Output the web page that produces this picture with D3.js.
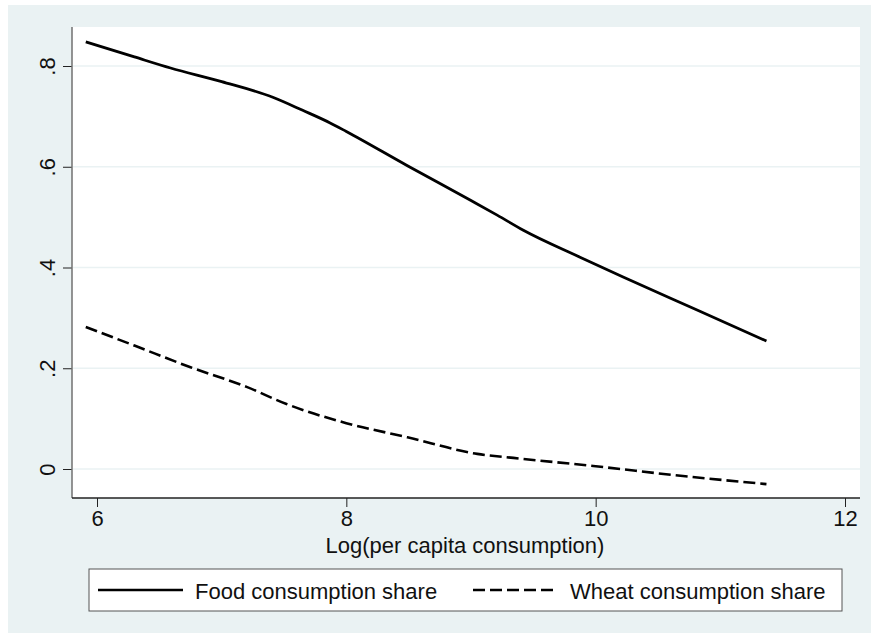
<!DOCTYPE html>
<html>
<head>
<meta charset="utf-8">
<script src="https://cdn.jsdelivr.net/npm/d3@7"></script>
<style>
  body { margin: 0; background: #fff; }
  svg { display: block; font-family: "Liberation Sans", Arial, sans-serif; }
</style>
</head>
<body>
<div id="chart"></div>
<script>
// Data (x = log per capita consumption, y = share)
const foodX = [5.91, 6.3, 6.59, 7.0, 7.41, 7.65, 7.87, 8.0, 8.49, 9.0, 9.21, 9.42, 9.87, 10.22, 10.8, 11.37];
const foodY = [0.848, 0.818, 0.796, 0.769, 0.738, 0.712, 0.687, 0.670, 0.602, 0.533, 0.504, 0.474, 0.421, 0.381, 0.317, 0.254];

const wheatX = [5.91, 6.3, 6.75, 7.2, 7.52, 8.0, 8.49, 9.05, 9.34, 9.98, 10.7, 11.37];
const wheatY = [0.282, 0.245, 0.202, 0.163, 0.129, 0.091, 0.063, 0.030, 0.022, 0.006, -0.014, -0.030];

const xTicks = [6, 8, 10, 12];
const yTicks = [0, 0.2, 0.4, 0.6, 0.8];
const yTickLabels = ["0", ".2", ".4", ".6", ".8"];

const seriesNames = ["Food consumption share", "Wheat consumption share"];
const xTitle = "Log(per capita consumption)";

const W = 871, H = 637;
const bg = "#eaf2f3";

const svg = d3.select('#chart').append('svg')
    .attr('width', W)
    .attr('height', H);

// outer graph region
svg.append('rect')
    .attr('x', 8).attr('y', 5)
    .attr('width', W - 8).attr('height', 628)
    .attr('fill', bg);

// plot region
const plot = { left: 72, right: 860, top: 27, bottom: 498 };
svg.append('rect')
    .attr('x', plot.left).attr('y', plot.top)
    .attr('width', plot.right - plot.left).attr('height', plot.bottom - plot.top)
    .attr('fill', '#fff');

const x = d3.scaleLinear().domain([6, 12]).range([97, 845]);
const y = d3.scaleLinear().domain([0, 0.8]).range([469, 66]);

// horizontal grid
svg.append('g')
    .selectAll('line')
    .data(yTicks)
    .enter()
    .append('line')
    .attr('x1', plot.left + 1).attr('x2', plot.right)
    .attr('y1', d => y(d)).attr('y2', d => y(d))
    .attr('stroke', bg)
    .attr('stroke-width', 1.5);

// y axis
const yAxis = svg.append('g')
    .attr('transform', `translate(${plot.left},0)`)
    .call(d3.axisLeft(y).tickValues(yTicks).tickSize(9).tickPadding(0).tickFormat((d, i) => yTickLabels[i]));
yAxis.select('.domain').remove();
yAxis.selectAll('.tick line').attr('stroke', '#222');
yAxis.selectAll('.tick text')
    .attr('font-size', 22)
    .attr('fill', '#111')
    .attr('text-anchor', 'middle')
    .attr('dy', 0)
    .attr('x', 0)
    .attr('transform', 'translate(-17,0) rotate(-90)');
svg.append('line')
    .attr('x1', plot.left).attr('x2', plot.left)
    .attr('y1', plot.top).attr('y2', plot.bottom)
    .attr('stroke', '#707070').attr('stroke-width', 1.5);

// x axis
const xAxis = svg.append('g')
    .attr('transform', `translate(0,${plot.bottom})`)
    .call(d3.axisBottom(x).tickValues(xTicks).tickSize(9).tickPadding(3).tickFormat(d3.format('d')));
xAxis.select('.domain').remove();
xAxis.selectAll('.tick line').attr('stroke', '#222');
xAxis.selectAll('.tick text')
    .attr('font-size', 22)
    .attr('fill', '#111');
svg.append('line')
    .attr('x1', plot.left).attr('x2', plot.right)
    .attr('y1', plot.bottom).attr('y2', plot.bottom)
    .attr('stroke', '#222').attr('stroke-width', 1.5);

svg.append('text')
    .attr('x', (x(6) + x(12)) / 2 - 6)
    .attr('y', 553)
    .attr('text-anchor', 'middle')
    .attr('font-size', 22)
    .attr('fill', '#111')
    .text(xTitle);

// lines
const line = d3.line()
    .x(d => x(d[0]))
    .y(d => y(d[1]))
    .curve(d3.curveMonotoneX);

const food = foodX.map((v, i) => [v, foodY[i]]);
const wheat = wheatX.map((v, i) => [v, wheatY[i]]);

svg.append('path')
    .attr('d', line(food))
    .attr('fill', 'none')
    .attr('stroke', '#000')
    .attr('stroke-width', 2.8);

svg.append('path')
    .attr('d', line(wheat))
    .attr('fill', 'none')
    .attr('stroke', '#000')
    .attr('stroke-width', 2.6)
    .attr('stroke-dasharray', '12,5');

// legend
const legend = svg.append('g');
legend.append('rect')
    .attr('x', 89).attr('y', 569)
    .attr('width', 753).attr('height', 42)
    .attr('fill', '#fff')
    .attr('stroke', '#555')
    .attr('stroke-width', 1);

const legendItems = [
    { name: seriesNames[0], x0: 98, dash: null },
    { name: seriesNames[1], x0: 473, dash: '12,5' }
];
legendItems.forEach(it => {
    legend.append('line')
        .attr('x1', it.x0).attr('x2', it.x0 + 85)
        .attr('y1', 590).attr('y2', 590)
        .attr('stroke', '#000')
        .attr('stroke-width', 2.4)
        .attr('stroke-dasharray', it.dash);
    legend.append('text')
        .attr('x', it.x0 + 97)
        .attr('y', 599)
        .attr('font-size', 22)
        .attr('fill', '#111')
        .text(it.name);
});
</script>
</body>
</html>
